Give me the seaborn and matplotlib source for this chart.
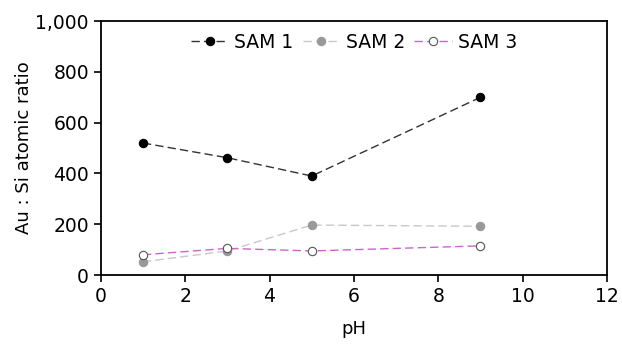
import matplotlib
matplotlib.use("Agg")
import matplotlib.pyplot as plt
import seaborn as sns
import pandas as pd

ph = [1, 3, 5, 9]
sam1 = [520, 462, 390, 700]
sam2 = [52, 95, 197, 192]
sam3 = [80, 105, 95, 115]
series_names = ["SAM 1", "SAM 2", "SAM 3"]

sns.set_theme(style="ticks")
plt.rcParams['font.family'] = ['DejaVu Sans']
plt.rcParams['text.color'] = 'black'
plt.rcParams['axes.labelcolor'] = 'black'
plt.rcParams['xtick.color'] = 'black'
plt.rcParams['ytick.color'] = 'black'

df = pd.DataFrame({
    "pH": ph * 3,
    "ratio": sam1 + sam2 + sam3,
    "series": [series_names[0]] * 4 + [series_names[1]] * 4 + [series_names[2]] * 4,
})

fig = plt.figure(figsize=(6.22, 3.46), dpi=100)
ax = fig.add_axes([0.162, 0.205, 0.814, 0.734])

styles = {
    "SAM 1": dict(color="#333333", mfc="black", mec="black"),
    "SAM 2": dict(color="#c8c8c8", mfc="#999999", mec="#999999"),
    "SAM 3": dict(color="#cc66cc", mfc="white", mec="#555555"),
}
for name in series_names:
    sub = df[df["series"] == name]
    st = styles[name]
    sns.lineplot(data=sub, x="pH", y="ratio", ax=ax, color=st["color"],
                 linestyle=(0, (6, 3)), linewidth=1.0, marker="o", markersize=6,
                 markerfacecolor=st["mfc"], markeredgecolor=st["mec"],
                 markeredgewidth=0.8, label=name)

ax.set_xlim(0, 12)
ax.set_ylim(0, 1000)
ax.set_xticks(range(0, 13, 2))
ax.set_yticks(range(0, 1001, 200))
ax.set_yticklabels(["0", "200", "400", "600", "800", "1,000"])
ax.tick_params(axis="both", labelsize=13.5, direction="out", length=5, width=1.2,
               color="black", labelcolor="black")
for s in ax.spines.values():
    s.set_linewidth(1.3)
    s.set_color("black")
ax.set_xlabel("pH", fontsize=13, color="black", labelpad=10)
ax.set_ylabel("Au : Si atomic ratio", fontsize=13, color="black", labelpad=2)
ax.legend(loc="upper center", ncol=3, frameon=False, fontsize=13.5,
          handlelength=2.0, columnspacing=0.5, handletextpad=0.3,
          bbox_to_anchor=(0.5, 1.02))

fig.savefig("out.png", dpi=100)
